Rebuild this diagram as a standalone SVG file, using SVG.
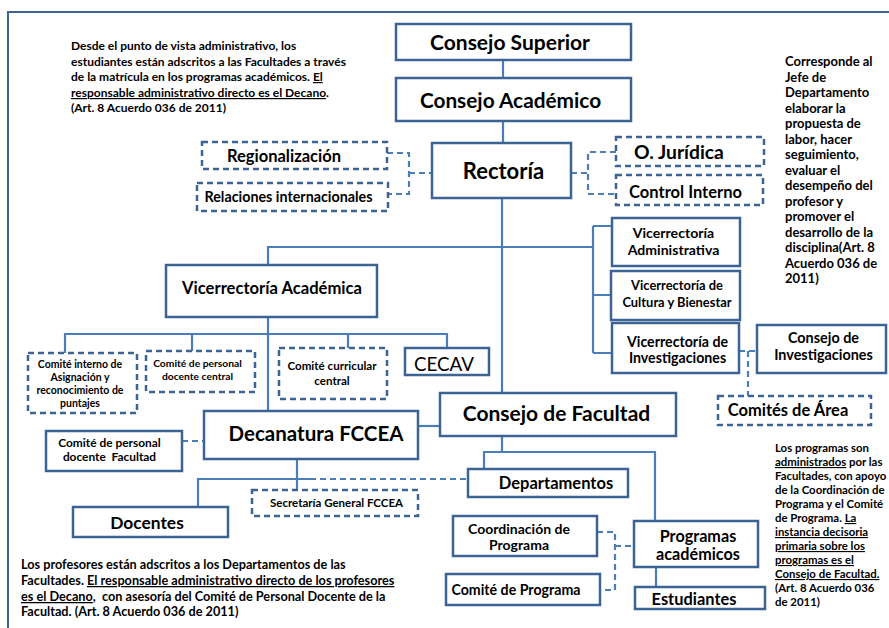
<svg xmlns="http://www.w3.org/2000/svg" width="889" height="628" viewBox="0 0 889 628">
<style>
.box{fill:#fff;stroke:#3b6394;stroke-width:2.5}
.dbox{fill:#fff;stroke:#3b6394;stroke-width:2.5;stroke-dasharray:6 4}
.ln{stroke:#4a7ebb;stroke-width:2.2;fill:none}
.dl{stroke:#4a7ebb;stroke-width:2.2;fill:none;stroke-dasharray:6 4}
text{font-family:Lato,"Liberation Sans",sans-serif;font-weight:bold;fill:#000;text-anchor:middle}
.note{text-anchor:start}
.u{text-decoration:underline}
.reg{font-weight:normal}
</style>
<rect x="8" y="12" width="920" height="700" fill="none" stroke="#3b6394" stroke-width="2"/>

<g id="connectors">
<path class="ln" d="M503,60V78M503,121V143M502,198V393"/>
<path class="ln" d="M268,265V247H593M593,226V353M593,226H612M593,295H611M593,353H612"/>
<path class="ln" d="M268,317V411M65,353V334H447V348M192,334V351M348,334V348"/>
<path class="ln" d="M418,426H440"/>
<path class="ln" d="M297,459V490M198,507V479H310"/>
<path class="dl" d="M310,479H468"/>
<path class="ln" d="M502,436V452M484,469V452H655V521M656,567V587"/>
<path class="dl" d="M387,153H409V194H388M409,173H432"/>
<path class="dl" d="M571,173H588M616,152H588V194H616"/>
<path class="dl" d="M182,441H204"/>
<path class="dl" d="M739,351H757M748,351V396"/>
<path class="dl" d="M597,532H615V590H600M615,546H634"/>
</g>

<g id="consejo-superior"><rect class="box" x="396" y="24" width="235" height="36"/><text x="510" y="49.5" font-size="21">Consejo Superior</text></g>
<g id="consejo-academico"><rect class="box" x="396" y="78" width="235" height="43"/><text x="510.5" y="107.5" font-size="20.8">Consejo Académico</text></g>
<g id="rectoria"><rect class="box" x="432" y="143" width="139" height="55"/><text x="503.5" y="179" font-size="22">Rectoría</text></g>
<g id="regionalizacion"><rect class="dbox" x="202" y="142" width="185" height="27"/><text x="284" y="161.5" font-size="16.5">Regionalización</text></g>
<g id="relaciones"><rect class="dbox" x="197" y="183" width="191" height="28"/><text x="288.5" y="202" font-size="14.3">Relaciones internacionales</text></g>
<g id="juridica"><rect class="dbox" x="616" y="137" width="148" height="29"/><text x="679" y="159" font-size="19.3">O. Jurídica</text></g>
<g id="control"><rect class="dbox" x="616" y="175" width="147" height="30"/><text x="685.5" y="198" font-size="16.5">Control Interno</text></g>
<g id="vic-admin"><rect class="box" x="612" y="218" width="128" height="48"/><text x="673.5" y="238" font-size="14.1">Vicerrectoría</text><text x="673.5" y="255" font-size="14.1">Administrativa</text></g>
<g id="vic-cultura"><rect class="box" x="611" y="271" width="129" height="49"/><text x="677" y="290" font-size="12.9">Vicerrectoría de</text><text x="677" y="307" font-size="12.9">Cultura y Bienestar</text></g>
<g id="vic-inv"><rect class="box" x="612" y="323" width="127" height="50"/><text x="677.5" y="347" font-size="14.2">Vicerrectoría de</text><text x="677.5" y="363" font-size="14.2">Investigaciones</text></g>
<g id="consejo-inv"><rect class="box" x="757" y="325" width="129" height="48"/><text x="823.5" y="343" font-size="14.4">Consejo de</text><text x="823.5" y="360" font-size="14.4">Investigaciones</text></g>
<g id="comites-area"><rect class="dbox" x="718" y="396" width="153" height="29"/><text x="788" y="416" font-size="16.5">Comités de Área</text></g>
<g id="vic-academica"><rect class="box" x="166" y="265" width="211" height="52"/><text x="272" y="294" font-size="16.6">Vicerrectoría Académica</text></g>
<g id="comite-interno"><rect class="dbox" x="28" y="353" width="109" height="60"/><text x="80" y="368" font-size="10.5">Comité interno de</text><text x="80" y="381" font-size="10.5">Asignación y</text><text x="80" y="394" font-size="10.5">reconocimiento de</text><text x="80" y="407" font-size="10.5">puntajes</text></g>
<g id="comite-personal-central"><rect class="dbox" x="146" y="351" width="109" height="41"/><text x="197.5" y="367" font-size="10.3">Comité de personal</text><text x="197.5" y="380" font-size="10.3">docente central</text></g>
<g id="comite-curricular"><rect class="dbox" x="279" y="348" width="108" height="51"/><text x="332" y="370" font-size="11.6">Comité curricular</text><text x="332" y="385" font-size="11.6">central</text></g>
<g id="cecav"><rect class="box" x="405" y="348" width="84" height="27"/><text class="reg" x="444" y="370.5" font-size="18.8">CECAV</text></g>
<g id="decanatura"><rect class="box" x="204" y="411" width="214" height="48"/><text x="316" y="440.5" font-size="20.5">Decanatura FCCEA</text></g>
<g id="comite-personal-facultad"><rect class="box" x="46" y="431" width="136" height="40"/><text x="109.5" y="447" font-size="11.9">Comité de personal</text><text x="109.5" y="461" font-size="11.9" xml:space="preserve">docente  Facultad</text></g>
<g id="consejo-facultad"><rect class="box" x="440" y="393" width="236" height="43"/><text x="556.5" y="420.5" font-size="21">Consejo de Facultad</text></g>
<g id="secretaria"><rect class="dbox" x="252" y="490" width="166" height="26"/><text x="336.5" y="506.5" font-size="11.5">Secretaría General FCCEA</text></g>
<g id="docentes"><rect class="box" x="73" y="507" width="155" height="30"/><text x="147" y="528.5" font-size="17.4">Docentes</text></g>
<g id="departamentos"><rect class="box" x="468" y="469" width="160" height="28"/><text x="556" y="489" font-size="16.5">Departamentos</text></g>
<g id="coordinacion"><rect class="box" x="453" y="516" width="144" height="40"/><text x="519" y="534" font-size="14">Coordinación de</text><text x="519" y="550" font-size="14">Programa</text></g>
<g id="comite-programa"><rect class="box" x="446" y="574" width="154" height="31"/><text x="516" y="595" font-size="14.2">Comité de Programa</text></g>
<g id="programas"><rect class="box" x="634" y="521" width="124" height="46"/><text x="698" y="541.5" font-size="16.2">Programas</text><text x="698" y="560" font-size="16.2">académicos</text></g>
<g id="estudiantes"><rect class="box" x="635" y="587" width="130" height="22"/><text x="694" y="604.5" font-size="16.4">Estudiantes</text></g>

<g id="note-top-left" font-size="12">
<text class="note" x="71" y="50">Desde el punto de vista administrativo, los</text>
<text class="note" x="71" y="66">estudiantes están adscritos a las Facultades a través</text>
<text class="note" x="71" y="81">de la matrícula en los programas académicos. <tspan class="u">El</tspan></text>
<text class="note" x="71" y="97"><tspan class="u">responsable administrativo directo es el Decano</tspan>.</text>
<text class="note" x="71" y="112">(Art. 8 Acuerdo 036 de 2011)</text>
</g>
<g id="note-top-right" font-size="13">
<text class="note" x="785" y="66">Corresponde al</text>
<text class="note" x="785" y="81.5">Jefe de</text>
<text class="note" x="785" y="97">Departamento</text>
<text class="note" x="785" y="112.5">elaborar la</text>
<text class="note" x="785" y="128">propuesta de</text>
<text class="note" x="785" y="143.5">labor, hacer</text>
<text class="note" x="785" y="159">seguimiento,</text>
<text class="note" x="785" y="174.5">evaluar el</text>
<text class="note" x="785" y="190">desempeño del</text>
<text class="note" x="785" y="205.5">profesor y</text>
<text class="note" x="785" y="221">promover el</text>
<text class="note" x="785" y="236.5">desarrollo de la</text>
<text class="note" x="785" y="252">disciplina(Art. 8</text>
<text class="note" x="785" y="267.5">Acuerdo 036 de</text>
<text class="note" x="785" y="283">2011)</text>
</g>
<g id="note-bottom-left" font-size="12.7">
<text class="note" x="21" y="569">Los profesores están adscritos a los Departamentos de las</text>
<text class="note" x="21" y="585">Facultades. <tspan class="u">El responsable administrativo directo de los profesores</tspan></text>
<text class="note" x="21" y="601" xml:space="preserve"><tspan class="u">es el Decano</tspan>,  con asesoría del Comité de Personal Docente de la</text>
<text class="note" x="21" y="616">Facultad. (Art. 8 Acuerdo 036 de 2011)</text>
</g>
<g id="note-bottom-right" font-size="11.4">
<text class="note" x="775" y="452">Los programas son</text>
<text class="note" x="775" y="466"><tspan class="u">administrados</tspan> por las</text>
<text class="note" x="775" y="480">Facultades, con apoyo</text>
<text class="note" x="775" y="494">de la Coordinación de</text>
<text class="note" x="775" y="508">Programa y el Comité</text>
<text class="note" x="775" y="522">de Programa. <tspan class="u">La</tspan></text>
<text class="note" x="775" y="536"><tspan class="u">instancia decisoria</tspan></text>
<text class="note" x="775" y="550"><tspan class="u">primaria sobre los</tspan></text>
<text class="note" x="775" y="564"><tspan class="u">programas es el</tspan></text>
<text class="note" x="775" y="578"><tspan class="u">Consejo de Facultad.</tspan></text>
<text class="note" x="775" y="592">(Art. 8 Acuerdo 036</text>
<text class="note" x="775" y="606">de 2011)</text>
</g>
</svg>
